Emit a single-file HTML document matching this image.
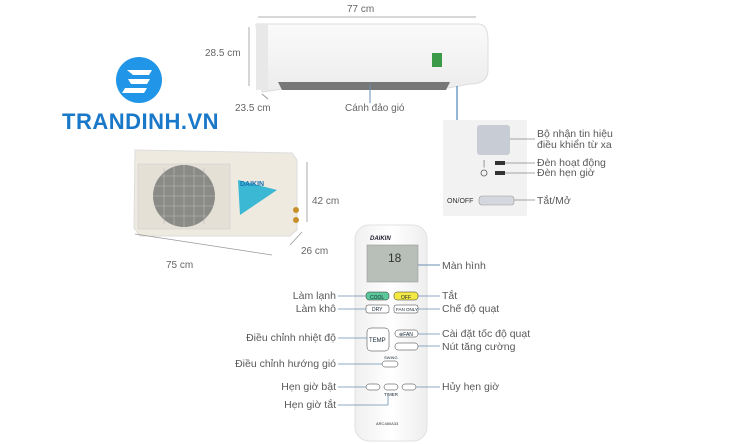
<!DOCTYPE html>
<html><head><meta charset="utf-8"><style>
body{margin:0;width:747px;height:444px;background:#fff;overflow:hidden;font-family:"Liberation Sans",sans-serif}
svg{position:absolute;left:0;top:0}
text{font-family:"Liberation Sans",sans-serif;fill:#666;font-size:10px}
.l{fill:#5a5a5a;font-size:10.5px}
</style></head><body>
<svg width="747" height="444" viewBox="0 0 747 444">
<defs>
<linearGradient id="ind" x1="0" y1="0" x2="0" y2="1"><stop offset="0" stop-color="#fafafa"/><stop offset="1" stop-color="#ececec"/></linearGradient>
<linearGradient id="rem" x1="0" y1="0" x2="1" y2="0"><stop offset="0" stop-color="#f0f0f0"/><stop offset=".5" stop-color="#fff"/><stop offset="1" stop-color="#eee"/></linearGradient>
</defs>
<!-- indoor unit -->
<text x="347" y="12">77 cm</text>
<line x1="258" y1="17" x2="476" y2="17" stroke="#999" stroke-width="0.8"/>
<path d="M256 24 H478 Q488 24 488 40 V70 Q488 84 470 84 L448 88 H290 L262 92 Z" fill="url(#ind)" stroke="#ddd"/>
<rect x="256" y="24" width="12" height="66" fill="#e8e8e8"/>
<path d="M278 82 H450 L446 90 H282 Z" fill="#777"/>
<rect x="432" y="53" width="10" height="14" fill="#3a9a4a"/>
<text x="205" y="56">28.5 cm</text>
<line x1="249" y1="27" x2="249" y2="86" stroke="#999" stroke-width="0.8"/>
<line x1="262" y1="94" x2="268" y2="99" stroke="#999"/>
<text x="235" y="111">23.5 cm</text>
<text x="345" y="111">Cánh đảo gió</text>
<line x1="370" y1="84" x2="370" y2="103" stroke="#6a8fb0"/>
<line x1="457" y1="86" x2="457" y2="122" stroke="#2a6fb0"/>
<!-- panel -->
<rect x="443" y="120" width="84" height="96" fill="#f2f2f2"/>
<rect x="477" y="125" width="33" height="30" rx="3" fill="#c8ccd4"/>
<line x1="510" y1="139" x2="535" y2="139" stroke="#888" stroke-width=".7"/>
<text class="l" x="537" y="137">Bộ nhận tin hiệu</text>
<text class="l" x="537" y="148">điều khiển từ xa</text>
<text x="483" y="166" style="font-size:8px">|</text>
<rect x="495" y="161" width="10" height="4" fill="#333"/>
<line x1="505" y1="163" x2="535" y2="163" stroke="#888" stroke-width=".7"/>
<text class="l" x="537" y="166">Đèn hoạt động</text>
<circle cx="484" cy="173" r="3" fill="none" stroke="#555" stroke-width=".8"/>
<rect x="495" y="171" width="10" height="4" fill="#333"/>
<line x1="505" y1="173" x2="535" y2="173" stroke="#888" stroke-width=".7"/>
<text class="l" x="537" y="176">Đèn hẹn giờ</text>
<text x="447" y="203" style="font-size:7px;fill:#333">ON/OFF</text>
<rect x="479" y="196" width="35" height="9" rx="3" fill="#d4d8de" stroke="#999" stroke-width=".6"/>
<line x1="514" y1="200" x2="535" y2="200" stroke="#888" stroke-width=".7"/>
<text class="l" x="537" y="204">Tắt/Mở</text>
<!-- logo -->
<circle cx="139" cy="80" r="23" fill="#2196e8"/>
<path d="M127 70 H152 L149 75 H133 Z M128 79 H150 L147 84 H131 Z M125 88 H147 L144 93 H122 Z" fill="#fff"/>
<text x="62" y="129" style="font-size:22px;font-weight:bold;fill:#1a78c8;letter-spacing:0.5px">TRANDINH.VN</text>
<!-- outdoor unit -->
<path d="M135 150 L292 153 L297 160 V230 L290 236 H140 L134 228 Z" fill="#eeeae0" stroke="#ddd"/>
<rect x="138" y="164" width="92" height="65" fill="#e4e0d6" stroke="#ccc" stroke-width=".5"/>
<circle cx="184" cy="196" r="31" fill="#8a8a86"/>
<g stroke="#bbb" stroke-width=".6">
<line x1="160" y1="176" x2="208" y2="176"/><line x1="155" y1="186" x2="213" y2="186"/><line x1="153" y1="196" x2="215" y2="196"/><line x1="155" y1="206" x2="213" y2="206"/><line x1="160" y1="216" x2="208" y2="216"/>
<line x1="164" y1="168" x2="164" y2="224"/><line x1="174" y1="166" x2="174" y2="226"/><line x1="184" y1="165" x2="184" y2="227"/><line x1="194" y1="166" x2="194" y2="226"/><line x1="204" y1="168" x2="204" y2="224"/>
</g>
<path d="M238 180 L277 190 L240 215 Z" fill="#3ab8d4"/>
<text x="240" y="186" style="font-size:7px;font-weight:bold;fill:#1a70b0">DAIKIN</text>
<circle cx="296" cy="210" r="3" fill="#c8902a"/><circle cx="296" cy="220" r="3" fill="#c8902a"/>
<line x1="307" y1="162" x2="307" y2="222" stroke="#999" stroke-width=".8"/>
<text x="312" y="204">42 cm</text>
<line x1="290" y1="245" x2="302" y2="232" stroke="#999" stroke-width=".8"/>
<text x="301" y="254">26 cm</text>
<line x1="135" y1="234" x2="272" y2="255" stroke="#999" stroke-width=".8"/>
<text x="166" y="268">75 cm</text>
<!-- remote -->
<rect x="355" y="225" width="72" height="216" rx="14" fill="url(#rem)" stroke="#e2e2e2"/>
<text x="370" y="240" style="font-size:6px;font-weight:bold;font-style:italic;fill:#223">DAIKIN</text>
<rect x="367" y="245" width="51" height="37" fill="#b8beb8" stroke="#999" stroke-width=".6"/>
<text x="388" y="262" style="font-size:12px;fill:#333">18</text>
<line x1="418" y1="265" x2="440" y2="265" stroke="#6a8fb0"/>
<text class="l" x="442" y="269">Màn hình</text>
<rect x="366" y="292" width="23" height="8" rx="3" fill="#5cc89a" stroke="#333" stroke-width=".5"/>
<text x="370" y="299" style="font-size:5px;fill:#123">COOL</text>
<rect x="394" y="292" width="24" height="8" rx="3" fill="#f3e844" stroke="#333" stroke-width=".5"/>
<text x="401" y="299" style="font-size:5px;fill:#123">OFF</text>
<rect x="366" y="305" width="23" height="8" rx="2" fill="#fff" stroke="#333" stroke-width=".5"/>
<text x="372" y="311" style="font-size:5px;fill:#123">DRY</text>
<rect x="394" y="305" width="24" height="8" rx="2" fill="#fff" stroke="#333" stroke-width=".5"/>
<text x="396" y="311" style="font-size:4.5px;fill:#123">FAN ONLY</text>
<rect x="367" y="328" width="22" height="23" rx="4" fill="#fff" stroke="#333" stroke-width=".5"/>
<text x="369" y="342" style="font-size:6px;fill:#123">TEMP</text>
<rect x="395" y="330" width="23" height="7" rx="3" fill="#fff" stroke="#333" stroke-width=".5"/>
<text x="399" y="336" style="font-size:5px;fill:#123">⊕FAN</text>
<rect x="395" y="343" width="23" height="7" rx="3" fill="#fff" stroke="#333" stroke-width=".5"/>
<rect x="382" y="361" width="16" height="6" rx="3" fill="#fff" stroke="#333" stroke-width=".5"/>
<text x="384" y="359" style="font-size:4px;fill:#123">SWING</text>
<rect x="366" y="384" width="14" height="6" rx="3" fill="#fff" stroke="#333" stroke-width=".5"/>
<rect x="384" y="384" width="14" height="6" rx="3" fill="#fff" stroke="#333" stroke-width=".5"/>
<rect x="402" y="384" width="14" height="6" rx="3" fill="#fff" stroke="#333" stroke-width=".5"/>
<text x="384" y="396" style="font-size:4.5px;fill:#123">TIMER</text>
<text x="376" y="425" style="font-size:4px;fill:#333">ARC480A33</text>
<g stroke="#6a8fb0" stroke-width=".8">
<line x1="338" y1="296" x2="366" y2="296"/><line x1="418" y1="296" x2="440" y2="296"/>
<line x1="338" y1="309" x2="366" y2="309"/><line x1="418" y1="309" x2="440" y2="309"/>
<line x1="338" y1="338" x2="367" y2="338"/><line x1="418" y1="334" x2="440" y2="334"/>
<line x1="418" y1="346" x2="440" y2="346"/><line x1="338" y1="364" x2="382" y2="364"/>
<line x1="338" y1="387" x2="366" y2="387"/><line x1="416" y1="387" x2="440" y2="387"/>
<line x1="338" y1="405" x2="388" y2="405"/><line x1="388" y1="405" x2="388" y2="396"/>
</g>
<text class="l" x="336" y="299" text-anchor="end">Làm lạnh</text>
<text class="l" x="336" y="312" text-anchor="end">Làm khô</text>
<text class="l" x="336" y="341" text-anchor="end">Điều chỉnh nhiệt độ</text>
<text class="l" x="336" y="367" text-anchor="end">Điều chỉnh hướng gió</text>
<text class="l" x="336" y="390" text-anchor="end">Hẹn giờ bật</text>
<text class="l" x="336" y="408" text-anchor="end">Hẹn giờ tắt</text>
<text class="l" x="442" y="299">Tắt</text>
<text class="l" x="442" y="312">Chế độ quạt</text>
<text class="l" x="442" y="337">Cài đặt tốc độ quạt</text>
<text class="l" x="442" y="350">Nút tăng cường</text>
<text class="l" x="442" y="390">Hủy hẹn giờ</text>
</svg>
</body></html>
